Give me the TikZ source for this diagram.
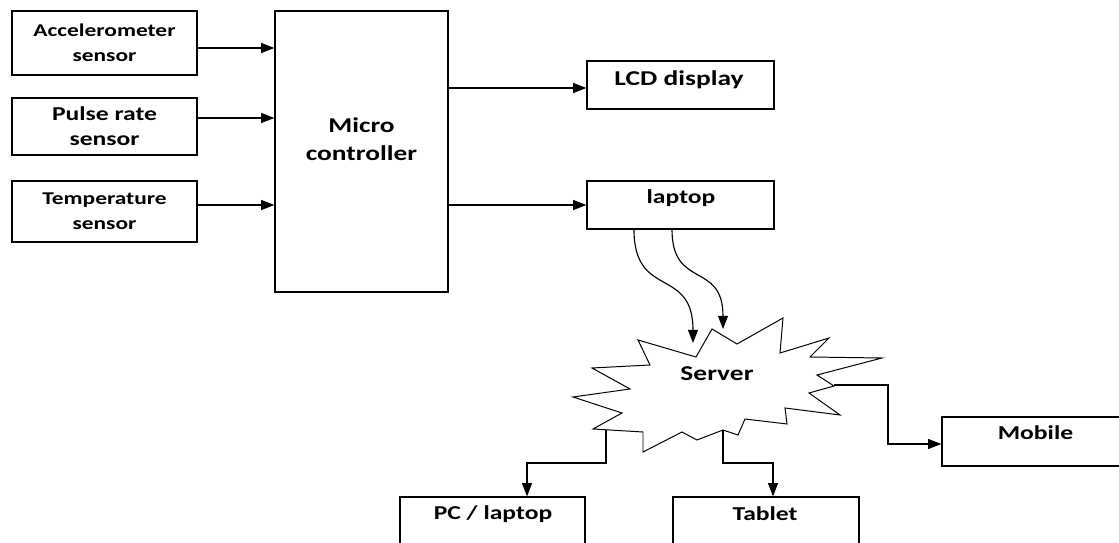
\documentclass[tikz,border=0pt]{standalone}
\usepackage{fontspec}
\setmainfont{Carlito}[FakeStretch=1.3]
\usetikzlibrary{arrows.meta}

\begin{document}
\begin{tikzpicture}[x=0.025cm, y=-0.025cm,
	>={Triangle[length=0.33cm,width=0.25cm]},
	box/.style={draw, line width=0.9pt, inner sep=0pt, align=center},
	lbl/.style={inner sep=0pt, align=center, font=\bfseries\fontsize{14}{17.8}\selectfont},
	link/.style={line width=0.8pt}]
	\useasboundingbox (0,0) rectangle (1119,543);
	\clip (0,0) rectangle (1119,543);

	%sensors
	\node[box, lbl, font=\bfseries\fontsize{12.8}{17.8}\selectfont, minimum width=4.625cm, minimum height=1.6cm] (acc) at (104.5,43) {Accelerometer\\sensor};
	\node[box, lbl, minimum width=4.625cm, minimum height=1.425cm] (pulse) at (104.5,126.5) {Pulse rate\\sensor};
	\node[box, lbl, font=\bfseries\fontsize{12.8}{17.8}\selectfont, minimum width=4.625cm, minimum height=1.525cm] (temp) at (104.5,211.5) {Temperature\\sensor};

	%micro controller
	\node[box, minimum width=4.325cm, minimum height=7.025cm] (mcu) at (361.5,151.5) {};
	\node[lbl, font=\bfseries\fontsize{15}{19.9}\selectfont] (mcutxt) at (361.5,139) {Micro\\controller};

	\draw[link, ->] (acc.east |- 0,48) -- (mcu.west |- 0,48);
	\draw[link, ->] (pulse.east |- 0,118) -- (mcu.west |- 0,118);
	\draw[link, ->] (temp.east |- 0,205) -- (mcu.west |- 0,205);

	%outputs
	\node[box, minimum width=4.675cm, minimum height=1.2cm] (lcd) at (680.5,85) {};
	\node[lbl, font=\bfseries\fontsize{15}{18}\selectfont] (lcdtxt) at (679,80) {LCD display};
	\node[box, minimum width=4.675cm, minimum height=1.2cm] (laptop) at (680.5,205) {};
	\node[lbl] (laptoptxt) at (681,198) {laptop};

	\draw[link, ->] (mcu.east |- 0,88) -- (lcd.west |- 0,88);
	\draw[link, ->] (mcu.east |- laptop) -- (laptop.west);

	%server
	\draw[line width=0.7pt, fill=white] (696,357) -- (712,329) -- (737,344) -- (783,318) -- (780,353) -- (829,338) -- (810,357) -- (882,358) -- (817,375) -- (834,386) -- (809,393) -- (840,415) -- (785,408) -- (787,424) -- (745,419) -- (738,435) -- (723,430) -- (697,440) -- (682,432) -- (643,452) -- (643,432) -- (593,429) -- (622,413) -- (573,397) -- (630,389) -- (592,368) -- (650,365) -- (638,340) -- cycle;
	\node[lbl, font=\bfseries\fontsize{15}{18}\selectfont] (server) at (717,374) {Server};
	\coordinate (srvin1) at (693,343);
	\coordinate (srvin2) at (723,329);
	\coordinate (srvpc) at (606,430);
	\coordinate (srvtab) at (723,430);
	\coordinate (srvmob) at (834,385);

	\draw[link, ->] ([xshift=-1.1625cm]laptop.south) .. controls +(0,70) and +(0,-77) .. (srvin1);
	\draw[link, ->] ([xshift=-0.2125cm]laptop.south) .. controls +(0,60) and +(0,-68) .. (srvin2);

	%clients
	\node[box, minimum width=4.625cm, minimum height=1.575cm] (pc) at (492.5,528.5) {};
	\node[lbl] (pctxt) at (493,514) {PC / laptop};
	\node[box, minimum width=4.65cm, minimum height=1.575cm] (tablet) at (766,528.5) {};
	\node[lbl] (tablettxt) at (765,514) {Tablet};
	\node[box, minimum width=4.7cm, minimum height=1.225cm] (mobile) at (1036,441.5) {};
	\node[lbl] (mobiletxt) at (1035.5,433) {Mobile};

	\draw[link, ->] (srvpc) -- ++(0,33) -| ([xshift=0.8625cm]pc.north);
	\draw[link, ->] (srvtab) -- ++(0,33) -| ([xshift=0.175cm]tablet.north);
	\draw[link, ->] (srvmob) -- ++(54,0) |- (mobile.west |- 0,444);
\end{tikzpicture}
\end{document}
